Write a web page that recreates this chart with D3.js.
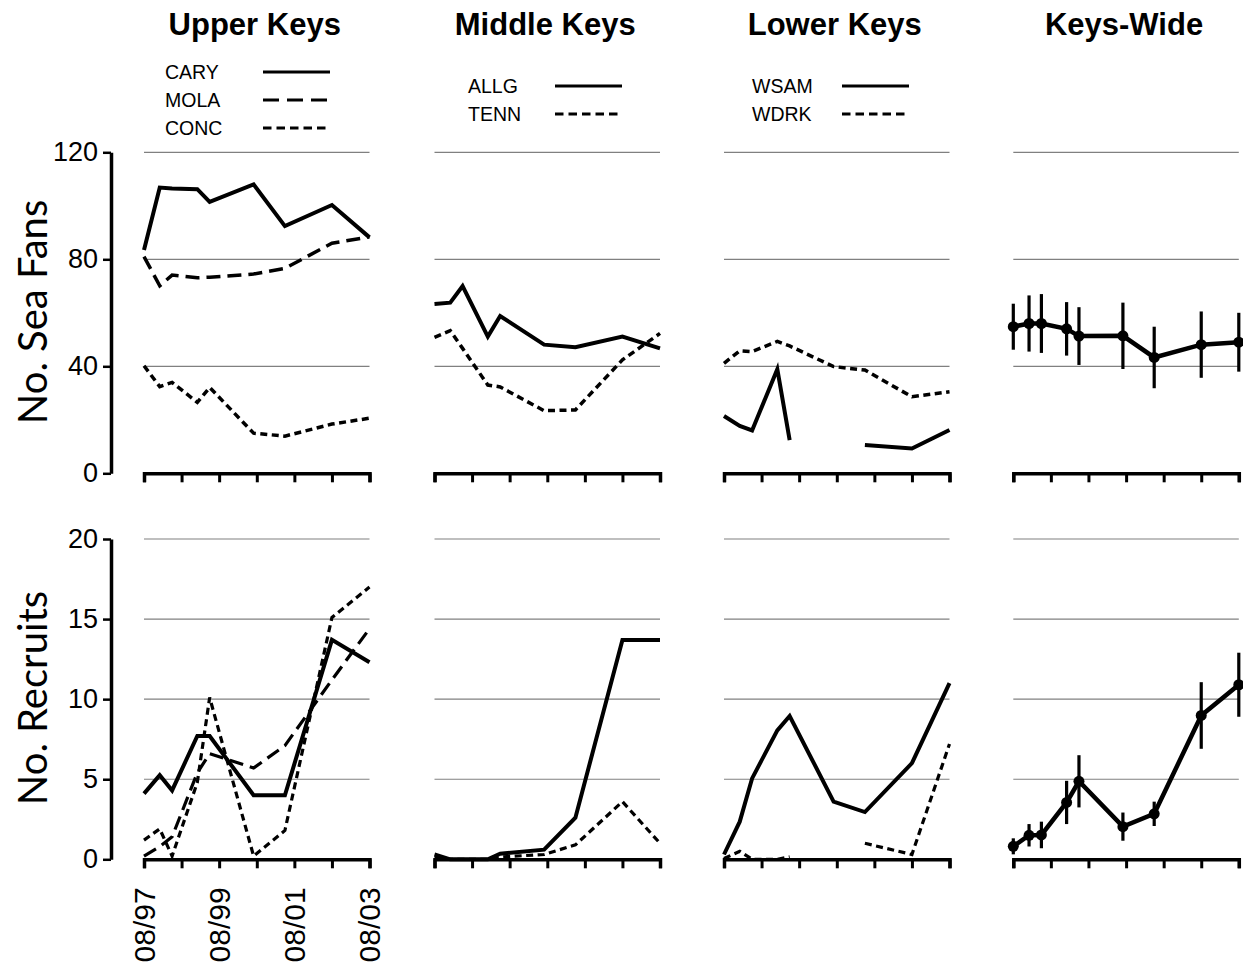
<!DOCTYPE html>
<html>
<head>
<meta charset="utf-8">
<script src="https://cdn.jsdelivr.net/npm/d3@7"></script>
<style>
  body { margin: 0; background: #fff; }
  svg { display: block; }
</style>
</head>
<body>
<svg id="chart" width="1243" height="970"></svg>
<script>
// ---- data -------------------------------------------------------------
const surveyMonths = ["1997-08", "1998-01", "1998-05", "1999-01", "1999-05",
                      "2000-07", "2001-05", "2002-08", "2003-08"];
const regionNames = ["Upper Keys", "Middle Keys", "Lower Keys", "Keys-Wide"];
const xTickMonths = ["1997-08", "1998-08", "1999-08", "2000-08", "2001-08", "2002-08", "2003-08"];
const xTickLabels = ["08/97", "", "08/99", "", "08/01", "", "08/03"];
const fanTicks = [0, 40, 80, 120];
const recruitTicks = [0, 5, 10, 15, 20];

// Upper Keys sites
const fansCARY    = [83.5, 106.8, 106.5, 106.2, 101.5, 108.0, 92.4, 100.3, 88.2];
const fansMOLA    = [81.0, 70.1, 74.1, 73.1, 73.3, 74.5, 76.6, 86.0, 88.4];
const fansCONC    = [40.2, 32.4, 34.0, 26.5, 32.1, 15.0, 13.9, 18.4, 20.6];
const recruitsCARY = [4.1, 5.25, 4.3, 7.7, 7.7, 4.0, 4.0, 13.7, 12.3];
const recruitsMOLA = [0.2, 0.8, 1.4, 5.4, 6.6, 5.7, 7.1, 11.2, 14.4];
const recruitsCONC = [1.2, 1.9, 0.2, 4.8, 10.1, 0.2, 1.8, 15.1, 17.0];

// Middle Keys sites
const fansALLG    = [63.3, 63.8, 70.0, 51.1, 58.8, 48.1, 47.1, 51.1, 46.7];
const fansTENN    = [50.8, 53.3, 46.7, 33.0, 32.3, 23.4, 23.7, 42.4, 52.3];
const recruitsALLG = [0.3, 0.0, 0.0, 0.0, 0.35, 0.6, 2.6, 13.7, 13.7];
const recruitsTENN = [0.1, 0.0, 0.0, 0.0, 0.15, 0.3, 0.9, 3.6, 1.0];

// Lower Keys sites
const fansWSAM    = [21.4, 17.7, 16.0, 38.9, 12.4, null, 10.6, 9.3, 16.2];
const fansWDRK    = [41.1, 45.8, 45.5, 49.3, 47.6, 39.9, 38.6, 28.6, 30.5];
const recruitsWSAM = [0.3, 2.35, 5.05, 8.05, 8.95, 3.6, 2.95, 6.0, 11.0];
const recruitsWDRK = [0.05, 0.5, 0.0, 0.0, 0.15, null, 1.0, 0.3, 7.2];

// Keys-wide means and error
const fansMean     = [54.8, 56.0, 56.0, 54.0, 51.3, 51.4, 43.3, 48.1, 49.0];
const fansErr      = [8.6, 10.5, 11.0, 10.0, 10.8, 12.4, 11.5, 12.4, 11.0];
const recruitsMean = [0.81, 1.5, 1.52, 3.55, 4.87, 2.04, 2.84, 8.98, 10.9];
const recruitsErr  = [0.5, 0.7, 0.83, 1.35, 1.63, 0.88, 0.76, 2.08, 2.0];

// ---- layout -------------------------------------------------------------
const parseMonth = d3.timeParse("%Y-%m");
const dates = surveyMonths.map(parseMonth);
const panelLeft = [144, 434.5, 724, 1013.3];
const panelWidth = 225.5;

const x = d3.scaleTime()
  .domain([parseMonth("1997-08"), parseMonth("2003-08")])
  .range([0, panelWidth]);
const yFans = d3.scaleLinear().domain([0, 120]).range([473.3, 152.3]);
const yRec  = d3.scaleLinear().domain([0, 20]).range([859.3, 539]);

const dashes = { solid: null, long: "14,7", short: "7,4.5" };

const sites = [
  [ { name: "CARY", style: "solid", fans: fansCARY, rec: recruitsCARY },
    { name: "MOLA", style: "long",  fans: fansMOLA, rec: recruitsMOLA },
    { name: "CONC", style: "short", fans: fansCONC, rec: recruitsCONC } ],
  [ { name: "ALLG", style: "solid", fans: fansALLG, rec: recruitsALLG },
    { name: "TENN", style: "short", fans: fansTENN, rec: recruitsTENN } ],
  [ { name: "WSAM", style: "solid", fans: fansWSAM, rec: recruitsWSAM },
    { name: "WDRK", style: "short", fans: fansWDRK, rec: recruitsWDRK } ]
];

const svg = d3.select("#chart");
const tickFont = "'Liberation Sans', Arial, sans-serif";

function zip(values, errs) {
  return values.map((v, i) => ({ date: dates[i], v: v, e: errs ? errs[i] : 0 }));
}

function drawPanel(g, y, gridValues) {
  // horizontal grid
  g.selectAll(null).data(gridValues).join("line")
    .attr("x1", 0).attr("x2", panelWidth)
    .attr("y1", d => y(d)).attr("y2", d => y(d))
    .attr("stroke", "#808080").attr("stroke-width", 1.2);

  // x axis
  const ax = g.append("g")
    .attr("transform", `translate(0,${y(0)})`)
    .call(d3.axisBottom(x)
      .tickValues(xTickMonths.map(parseMonth))
      .tickSize(9).tickSizeOuter(9)
      .tickFormat(""));
  ax.select(".domain").attr("stroke", "#000").attr("stroke-width", 3.5);
  ax.selectAll(".tick line").attr("stroke", "#000").attr("stroke-width", 3);
  return ax;
}

regionNames.forEach((region, r) => {
  const g = svg.append("g").attr("transform", `translate(${panelLeft[r]},0)`);

  // title
  g.append("text")
    .attr("x", panelWidth / 2 - 2).attr("y", 35)
    .attr("text-anchor", "middle")
    .attr("font-family", tickFont).attr("font-weight", "bold")
    .attr("font-size", 31)
    .text(region);

  drawPanel(g, yFans, [40, 80, 120]);
  const bottomAxis = drawPanel(g, yRec, [5, 10, 15, 20]);

  const lineFans = d3.line().defined(d => d.v != null)
    .x(d => x(d.date)).y(d => yFans(d.v));
  const lineRec = d3.line().defined(d => d.v != null)
    .x(d => x(d.date)).y(d => yRec(d.v));

  if (r < 3) {
    const group = sites[r];
    group.forEach(s => {
      g.append("path").datum(zip(s.fans))
        .attr("d", lineFans)
        .attr("fill", "none").attr("stroke", "#000")
        .attr("stroke-width", s.style === "solid" ? 4 : 3.5)
        .attr("stroke-dasharray", dashes[s.style])
        .attr("stroke-linejoin", "miter");
      g.append("path").datum(zip(s.rec))
        .attr("d", lineRec)
        .attr("fill", "none").attr("stroke", "#000")
        .attr("stroke-width", s.style === "solid" ? 4 : 3.2)
        .attr("stroke-dasharray", dashes[s.style])
        .attr("stroke-linejoin", "miter");
    });

    // legend
    const legTop = group.length === 3 ? 72 : 86;
    const legTextX = [21, 33.5, 28][r];
    const legLineX = [119, 120.5, 118][r];
    group.forEach((s, i) => {
      const ly = legTop + i * 28;
      g.append("text")
        .attr("x", legTextX).attr("y", ly + 7)
        .attr("font-family", tickFont).attr("font-size", 19.5)
        .text(s.name);
      g.append("line")
        .attr("x1", legLineX).attr("x2", legLineX + 67)
        .attr("y1", ly).attr("y2", ly)
        .attr("stroke", "#000").attr("stroke-width", 3.2)
        .attr("stroke-dasharray", s.style === "solid" ? null : (s.style === "long" ? "16,8" : "8.5,5"));
    });
  } else {
    // keys-wide mean with error bars
    [[zip(fansMean, fansErr), yFans, lineFans], [zip(recruitsMean, recruitsErr), yRec, lineRec]]
      .forEach(([data, y, line]) => {
        g.selectAll(null).data(data).join("line")
          .attr("x1", d => x(d.date)).attr("x2", d => x(d.date))
          .attr("y1", d => y(d.v - d.e)).attr("y2", d => y(d.v + d.e))
          .attr("stroke", "#000").attr("stroke-width", 3.2);
        g.append("path").datum(data).attr("d", line)
          .attr("fill", "none").attr("stroke", "#000").attr("stroke-width", 4.5);
        g.selectAll(null).data(data).join("circle")
          .attr("cx", d => x(d.date)).attr("cy", d => y(d.v))
          .attr("r", 5.5).attr("fill", "#000");
      });
  }

  // date labels under first panel only
  if (r === 0) {
    bottomAxis.selectAll(".tick").each(function (d, i) {
      if (!xTickLabels[i]) return;
      d3.select(this).append("text")
        .attr("transform", `translate(10,28) rotate(-90)`)
        .attr("text-anchor", "end")
        .attr("fill", "#000")
        .attr("font-family", tickFont).attr("font-size", 30)
        .text(xTickLabels[i]);
    });
  }
});

// y axes
function drawYAxis(y, ticks, title, titleY) {
  const ax = svg.append("g").attr("transform", "translate(111,0)")
    .call(d3.axisLeft(y).tickValues(ticks).tickSize(8).tickSizeOuter(0).tickPadding(5));
  ax.select(".domain").attr("stroke", "#000").attr("stroke-width", 3.5);
  ax.selectAll(".tick line").attr("stroke", "#000").attr("stroke-width", 2.5);
  ax.selectAll(".tick text")
    .attr("font-family", tickFont).attr("font-size", 27).attr("fill", "#000");
  svg.append("text")
    .attr("transform", `translate(47,${titleY}) rotate(-90)`)
    .attr("text-anchor", "middle")
    .attr("font-family", "Lato, 'Open Sans', sans-serif")
    .attr("font-size", 40)
    .text(title);
}
drawYAxis(yFans, fanTicks, "No. Sea Fans", 312);
drawYAxis(yRec, recruitTicks, "No. Recruits", 698);
</script>
</body>
</html>
